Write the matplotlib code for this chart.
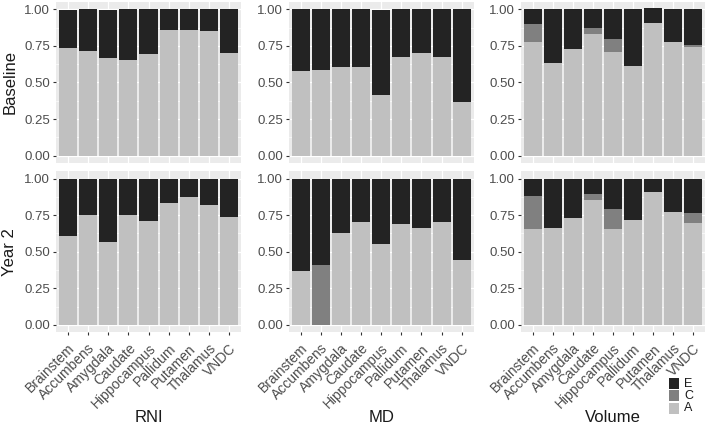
import matplotlib
matplotlib.use("Agg")
import matplotlib.pyplot as plt
from matplotlib.patches import Rectangle
import numpy as np

plt.rcParams['font.family'] = ['Liberation Sans', 'DejaVu Sans']

regions = ["Brainstem", "Accumbens", "Amygdala", "Caudate", "Hippocampus",
           "Pallidum", "Putamen", "Thalamus", "VNDC"]
measures = ["RNI", "MD", "Volume"]
timepoints = ["Baseline", "Year 2"]
components = ["A", "C", "E"]

# Baseline proportions (A, C, E) per region
base_rni_a = [0.734, 0.716, 0.666, 0.654, 0.695, 0.860, 0.860, 0.855, 0.700]
base_rni_c = [0, 0, 0, 0, 0, 0, 0, 0, 0]
base_rni_e = [0.266, 0.284, 0.334, 0.346, 0.305, 0.140, 0.140, 0.145, 0.300]

base_md_a = [0.579, 0.586, 0.604, 0.604, 0.416, 0.672, 0.704, 0.672, 0.369]
base_md_c = [0, 0, 0, 0, 0, 0, 0, 0, 0]
base_md_e = [0.421, 0.414, 0.396, 0.396, 0.584, 0.328, 0.296, 0.328, 0.631]

base_vol_a = [0.776, 0.633, 0.730, 0.831, 0.711, 0.614, 0.908, 0.776, 0.741]
base_vol_c = [0.127, 0, 0, 0.044, 0.088, 0, 0, 0, 0.016]
base_vol_e = [0.097, 0.367, 0.270, 0.125, 0.201, 0.386, 0.104, 0.224, 0.243]

# Year 2 proportions
y2_rni_a = [0.607, 0.748, 0.569, 0.750, 0.707, 0.834, 0.873, 0.816, 0.734]
y2_rni_c = [0, 0, 0, 0, 0, 0, 0, 0, 0]
y2_rni_e = [0.393, 0.252, 0.431, 0.250, 0.293, 0.166, 0.127, 0.184, 0.266]

y2_md_a = [0.369, 0.000, 0.628, 0.700, 0.553, 0.689, 0.659, 0.700, 0.442]
y2_md_c = [0, 0.408, 0, 0, 0, 0, 0, 0, 0]
y2_md_e = [0.631, 0.592, 0.372, 0.300, 0.447, 0.311, 0.341, 0.300, 0.558]

y2_vol_a = [0.655, 0.662, 0.732, 0.850, 0.657, 0.720, 0.907, 0.773, 0.693]
y2_vol_c = [0.229, 0, 0, 0.041, 0.132, 0, 0, 0, 0.073]
y2_vol_e = [0.116, 0.338, 0.268, 0.109, 0.211, 0.280, 0.093, 0.227, 0.234]

panels = [
    [(base_rni_a, base_rni_c, base_rni_e), (base_md_a, base_md_c, base_md_e),
     (base_vol_a, base_vol_c, base_vol_e)],
    [(y2_rni_a, y2_rni_c, y2_rni_e), (y2_md_a, y2_md_c, y2_md_e),
     (y2_vol_a, y2_vol_c, y2_vol_e)],
]

fill = {"A": "#c0c0c0", "C": "#808080", "E": "#232323"}

W, H = 708, 426
fig = plt.figure(figsize=(W / 100, H / 100), dpi=100)

# panel boxes in pixels (left, right) and (top, bottom)
col_px = [(55.6, 241.4), (288.6, 473.8), (520.6, 705.4)]
row_px = [(2.2, 162.8), (171.2, 332.3)]

x = np.arange(1, len(regions) + 1)

for r, (top, bot) in enumerate(row_px):
    for c, (left, right) in enumerate(col_px):
        ax = fig.add_axes([left / W, 1 - bot / H, (right - left) / W, (bot - top) / H])
        ax.set_facecolor("#ebebeb")
        for s in ax.spines.values():
            s.set_visible(False)

        bottom = np.zeros(len(regions))
        for comp, vals in zip(components, panels[r][c]):
            vals = np.array(vals, dtype=float)
            ax.bar(x, vals, width=0.9, bottom=bottom, color=fill[comp],
                   linewidth=0, zorder=2)
            bottom += vals

        ax.set_xlim(0.4, len(regions) + 0.6)
        ax.set_ylim(-0.05, 1.05)
        ax.set_yticks([0, 0.25, 0.5, 0.75, 1.0])
        ax.set_yticklabels(["0.00", "0.25", "0.50", "0.75", "1.00"])
        ax.set_yticks([0.125, 0.375, 0.625, 0.875], minor=True)
        ax.set_xticks(x)
        ax.grid(which="major", color="white", linewidth=0.9, zorder=0)
        ax.grid(which="minor", axis="y", color="white", linewidth=0.45, zorder=0)
        ax.set_axisbelow(True)
        ax.tick_params(axis="both", which="major", length=2.5, width=0.8,
                       color="#333333", labelcolor="#4d4d4d", labelsize=9.5, pad=1.5)
        ax.tick_params(axis="y", which="minor", length=0)

        if r == 1:
            ax.set_xticklabels(regions, rotation=45, ha="right",
                               rotation_mode="anchor", fontsize=10)
            ax.tick_params(axis="x", pad=4)
        else:
            ax.tick_params(axis="x", length=0, labelbottom=False)

# facet labels
for c, (left, right) in enumerate(col_px):
    fig.text((left + right) / 2 / W, 1 - 417 / H, measures[c], ha="center",
             va="center", fontsize=12, color="#1a1a1a")
for r, (top, bot) in enumerate(row_px):
    fig.text(10 / W, 1 - (top + bot) / 2 / H, timepoints[r], ha="center",
             va="center", rotation=90, fontsize=12, color="#1a1a1a")

# legend, E on top
key_y = [378, 390.3, 402.6]
for comp, ky in zip(["E", "C", "A"], key_y):
    fig.patches.append(Rectangle((669 / W, 1 - (ky + 11) / H), 10 / W, 11 / H,
                                 transform=fig.transFigure, facecolor=fill[comp],
                                 edgecolor="none"))
    fig.text(684 / W, 1 - (ky + 5.8) / H, comp, ha="left", va="center",
             fontsize=9, color="#1a1a1a")

fig.savefig("out.png", dpi=100)
